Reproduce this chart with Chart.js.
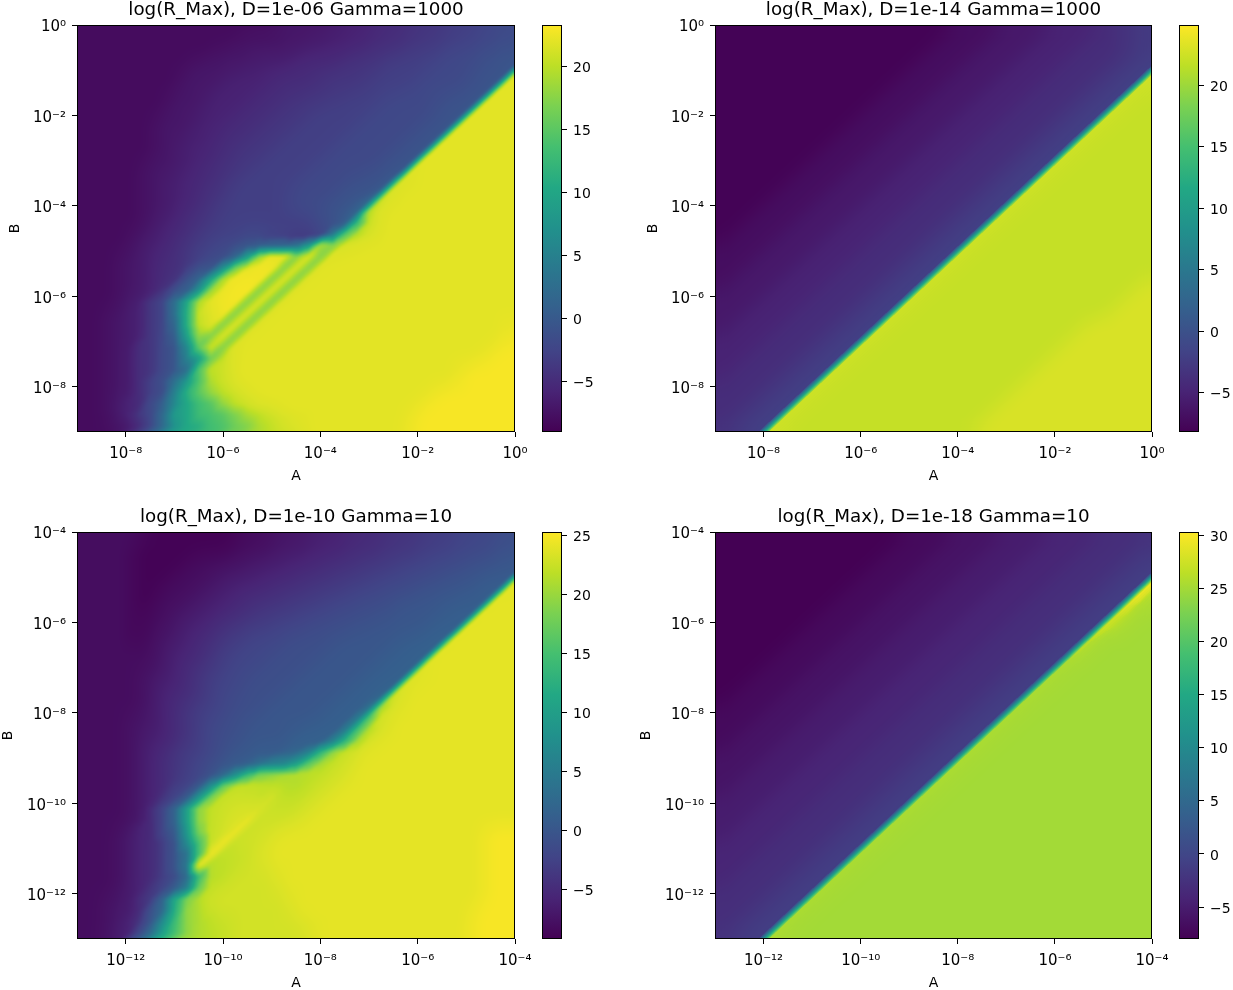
<!DOCTYPE html>
<html>
<head>
<meta charset="utf-8">
<script src="https://cdn.jsdelivr.net/npm/chart.js@4"></script>
<style>
  html, body { margin: 0; background: #fff; width: 1233px; height: 990px; overflow: hidden; }
  canvas { position: absolute; }
</style>
</head>
<body>
<script>
const viridis = ['#440154', '#482475', '#414487', '#355f8d', '#2a788e', '#21918c', '#22a884', '#44bf70', '#7ad151', '#bddf26', '#fde725']

const titles = ['log(R_Max), D=1e-06 Gamma=1000', 'log(R_Max), D=1e-14 Gamma=1000', 'log(R_Max), D=1e-10 Gamma=10', 'log(R_Max), D=1e-18 Gamma=10']

const topTickExps = [-8, -6, -4, -2, 0]
const topTickLabels = ['10⁻⁸', '10⁻⁶', '10⁻⁴', '10⁻²', '10⁰']
const lowTickExps = [-12, -10, -8, -6, -4]
const lowTickLabels = ['10⁻¹²', '10⁻¹⁰', '10⁻⁸', '10⁻⁶', '10⁻⁴']

const cbRanges = [[-9, 23.3], [-8.2, 24.9], [-9.2, 25.3], [-8, 30.3]]
const cbTicks = [[-5, 0, 5, 10, 15, 20], [-5, 0, 5, 10, 15, 20], [-5, 0, 5, 10, 15, 20, 25], [-5, 0, 5, 10, 15, 20, 25, 30]]

// log10(R_Max), rows top to bottom, 37 columns, 4 per decade
const grid1 = [
-8,-8,-8,-8, -8,-8,-8,-8, -8,-8,-8,-8, -8,-8,-8,-8, -8,-7,-7,-7, -7,-7,-6,-6, -6,-5,-5,-5, -4,-4,-4,-3, -3,-3,-2,-2, -1,
-8,-8,-8,-8, -8,-8,-8,-8, -8,-8,-8,-8, -8,-8,-7,-7, -7,-7,-7,-7, -6,-6,-6,-6, -5,-5,-5,-4, -4,-4,-3,-3, -3,-2,-2,-2, -1,
-8,-8,-8,-8, -8,-8,-8,-8, -8,-8,-8,-8, -7,-7,-7,-7, -7,-7,-6,-6, -6,-6,-5,-5, -5,-4,-4,-4, -3,-3,-3,-2, -2,-2,-1,-1, 0,
-8,-8,-8,-8, -8,-8,-8,-8, -8,-8,-7,-7, -7,-7,-7,-6, -6,-6,-6,-5, -5,-5,-5,-4, -4,-4,-3,-3, -3,-3,-2,-2, -2,-1,-1,-1, 0,
-8,-8,-8,-8, -8,-8,-8,-8, -8,-7,-7,-7, -7,-6,-6,-6, -6,-5,-5,-5, -5,-4,-4,-4, -4,-3,-3,-3, -3,-2,-2,-2, -2,-1,-1,0, 22,
-8,-8,-8,-8, -8,-8,-8,-8, -8,-7,-7,-7, -6,-6,-6,-6, -5,-5,-5,-5, -4,-4,-4,-4, -3,-3,-3,-3, -2,-2,-2,-2, -1,-1,0,22, 22,
-8,-8,-8,-8, -8,-8,-8,-8, -7,-7,-7,-6, -6,-6,-6,-5, -5,-5,-4,-4, -4,-4,-3,-3, -3,-3,-2,-2, -2,-2,-1,-1, -1,0,22,22, 22,
-8,-8,-8,-8, -8,-8,-8,-8, -7,-7,-7,-6, -6,-6,-5,-5, -5,-4,-4,-4, -3,-3,-3,-3, -3,-2,-2,-2, -2,-2,-1,-1, 0,22,22,22, 22,
-8,-8,-8,-8, -8,-8,-8,-7, -7,-7,-6,-6, -6,-5,-5,-5, -4,-4,-4,-3, -3,-3,-3,-3, -2,-2,-2,-2, -2,-1,-1,0, 22,22,22,22, 22,
-8,-8,-8,-8, -8,-8,-8,-7, -7,-7,-6,-6, -5,-5,-5,-4, -4,-4,-3,-3, -3,-3,-3,-2, -2,-2,-2,-2, -1,-1,0,22, 22,22,22,22, 22,
-8,-8,-8,-8, -8,-8,-8,-7, -7,-6,-6,-6, -5,-5,-4,-4, -4,-3,-3,-3, -3,-3,-2,-2, -2,-2,-2,-1, -1,0,22,22, 22,22,22,22, 22,
-8,-8,-8,-8, -8,-8,-8,-7, -7,-6,-6,-5, -5,-4,-4,-4, -3,-3,-3,-3, -3,-2,-2,-2, -2,-2,-1,-1, 0,22,22,22, 22,22,22,22, 22,
-8,-8,-8,-8, -8,-8,-7,-7, -7,-6,-6,-5, -5,-4,-4,-3, -3,-3,-3,-3, -2,-2,-2,-2, -2,-1,-1,0, 22,22,22,22, 22,22,22,22, 22,
-8,-8,-8,-8, -8,-8,-7,-7, -6,-6,-5,-5, -4,-4,-3,-3, -3,-3,-3,-2, -2,-2,-2,-1, -1,-1,1,21, 22,22,22,22, 22,22,22,22, 22,
-8,-8,-8,-8, -8,-8,-7,-7, -6,-6,-5,-5, -4,-3,-3,-3, -3,-3,-2,-2, -2,-2,-1,-1, -1,1,21,22, 22,22,22,22, 22,22,22,22, 22,
-8,-8,-8,-8, -8,-8,-7,-7, -6,-6,-5,-4, -4,-3,-3,-3, -3,-3,-2,-2, -2,-1,-1,0, 2,20,22,22, 22,22,22,22, 22,22,22,22, 22,
-8,-8,-8,-8, -8,-8,-7,-7, -6,-5,-5,-4, -3,-3,-3,-3, -3,-3,-2,-2, -1,-1,0,2, 19,22,22,22, 22,22,22,22, 22,22,22,22, 22,
-8,-8,-8,-8, -8,-8,-7,-6, -6,-5,-4,-4, -3,-3,-3,-3, -3,-3,-3,-3, -2,-1,1,12, 20,22,22,22, 22,22,22,22, 22,22,22,22, 22,
-8,-8,-8,-8, -8,-7,-7,-6, -5,-5,-4,-3, -3,-3,-2,-2, -3,-3,-4,-4, -2,4,14,19, 21,22,22,22, 22,22,22,22, 22,22,22,22, 22,
-8,-8,-8,-8, -8,-7,-6,-6, -5,-4,-3,-3, -2,-1,0,1, 2,2,3,8, 19,17,21,22, 22,22,22,22, 22,22,22,22, 22,22,22,22, 22,
-8,-8,-8,-8, -7,-7,-6,-5, -5,-4,-3,-2, -1,2,9,18, 22,22,17,22, 17,22,22,22, 22,22,22,22, 22,22,22,22, 22,22,22,22, 22,
-8,-8,-8,-8, -7,-7,-6,-5, -5,-3,-1,0, 7,16,21,23, 23,17,22,17, 22,22,22,22, 22,22,22,22, 22,22,22,22, 22,22,22,22, 22,
-8,-8,-8,-8, -7,-7,-6,-5, -4,-1,2,10, 19,23,23,23, 17,22,17,22, 22,22,22,22, 22,22,22,22, 22,22,22,22, 22,22,22,22, 22,
-8,-8,-8,-8, -7,-7,-6,-4, -1,1,8,18, 22,23,23,17, 22,17,22,22, 22,22,22,22, 22,22,22,22, 22,22,22,22, 22,22,22,22, 22,
-8,-8,-8,-8, -7,-6,-4,-2, 3,10,19,22, 23,23,17,22, 17,22,22,22, 22,22,22,22, 22,22,22,22, 22,22,22,22, 22,22,22,22, 22,
-8,-8,-8,-7, -7,-6,-4,-2, 3,11,20,22, 23,17,22,17, 22,22,22,22, 22,22,22,22, 22,22,22,22, 22,22,22,22, 22,22,22,22, 22,
-8,-8,-8,-7, -7,-6,-4,-2, 2,11,20,22, 17,22,17,22, 22,22,22,22, 22,22,22,22, 22,22,22,22, 22,22,22,22, 22,22,22,22, 23,
-8,-8,-8,-7, -7,-6,-4,-2, 1,9,18,17, 22,17,22,22, 22,22,22,22, 22,22,22,22, 22,22,22,22, 22,22,22,22, 22,22,22,22, 23,
-8,-8,-8,-7, -7,-5,-4,-2, 0,6,15,21, 17,22,22,22, 22,22,22,22, 22,22,22,22, 22,22,22,22, 22,22,22,22, 22,22,22,23, 23,
-8,-8,-8,-7, -7,-5,-4,-2, 0,5,9,16, 20,22,22,22, 22,22,22,22, 22,22,22,22, 22,22,22,22, 22,22,22,22, 22,22,23,23, 23,
-8,-8,-8,-7, -7,-5,-4,-2, 0,3,14,20, 21,22,22,22, 22,22,22,22, 22,22,22,22, 22,22,22,22, 22,22,22,22, 23,23,23,23, 23,
-8,-8,-8,-7, -7,-5,-3,-1, 3,8,14,19, 21,22,22,22, 22,22,22,22, 22,22,22,22, 22,22,22,22, 22,22,22,22, 23,23,23,23, 23,
-8,-8,-8,-7, -7,-5,-3,-1, 5,11,15,18, 20,21,22,22, 22,22,22,22, 22,22,22,22, 22,22,22,22, 22,22,23,23, 23,23,23,23, 23,
-8,-8,-8,-7, -6,-5,-2,1, 6,10,13,15, 18,20,21,22, 22,22,22,22, 22,22,22,22, 22,22,22,22, 22,23,23,23, 23,23,23,23, 23,
-8,-8,-8,-7, -6,-4,-2,2, 8,10,13,14, 15,17,19,20, 21,22,22,22, 22,22,22,22, 22,22,22,22, 23,23,23,23, 23,23,23,23, 23,
-8,-8,-8,-8, -7,-5,-2,2, 7,10,11,13, 14,16,17,19, 20,21,21,22, 22,22,22,22, 22,22,22,22, 23,23,23,23, 23,23,23,23, 23
]

const grid2 = [
-8,-8,-8,-8, -8,-8,-8,-8, -8,-8,-8,-8, -8,-8,-8,-8, -8,-8,-8,-8, -7,-7,-7,-7, -6,-6,-6,-6, -5,-5,-5,-5, -4,-4,-3,-3, -2,
-8,-8,-8,-8, -8,-8,-8,-8, -8,-8,-8,-8, -8,-8,-8,-8, -8,-8,-8,-7, -7,-7,-7,-6, -6,-6,-6,-5, -5,-5,-5,-4, -4,-4,-3,-3, -2,
-8,-8,-8,-8, -8,-8,-8,-8, -8,-8,-8,-8, -8,-8,-8,-8, -8,-8,-7,-7, -7,-7,-6,-6, -6,-6,-5,-5, -5,-5,-4,-4, -4,-4,-3,-3, -2,
-8,-8,-8,-8, -8,-8,-8,-8, -8,-8,-8,-8, -8,-8,-8,-8, -8,-7,-7,-7, -7,-6,-6,-6, -6,-5,-5,-5, -5,-4,-4,-4, -4,-3,-3,-2, -2,
-8,-8,-8,-8, -8,-8,-8,-8, -8,-8,-8,-8, -8,-8,-8,-8, -7,-7,-7,-7, -6,-6,-6,-6, -5,-5,-5,-5, -4,-4,-4,-4, -3,-3,-2,-2, 23,
-8,-8,-8,-8, -8,-8,-8,-8, -8,-8,-8,-8, -8,-8,-8,-7, -7,-7,-7,-6, -6,-6,-6,-5, -5,-5,-5,-4, -4,-4,-4,-3, -3,-2,-2,23, 22,
-8,-8,-8,-8, -8,-8,-8,-8, -8,-8,-8,-8, -8,-8,-7,-7, -7,-7,-6,-6, -6,-6,-5,-5, -5,-5,-4,-4, -4,-4,-3,-3, -2,-2,23,22, 22,
-8,-8,-8,-8, -8,-8,-8,-8, -8,-8,-8,-8, -8,-7,-7,-7, -7,-6,-6,-6, -6,-5,-5,-5, -5,-4,-4,-4, -4,-3,-3,-2, -2,23,22,22, 22,
-8,-8,-8,-8, -8,-8,-8,-8, -8,-8,-8,-8, -7,-7,-7,-7, -6,-6,-6,-6, -5,-5,-5,-5, -4,-4,-4,-4, -3,-3,-2,-2, 23,22,22,22, 22,
-8,-8,-8,-8, -8,-8,-8,-8, -8,-8,-8,-7, -7,-7,-7,-6, -6,-6,-6,-5, -5,-5,-5,-4, -4,-4,-4,-3, -3,-2,-2,23, 22,22,22,22, 22,
-8,-8,-8,-8, -8,-8,-8,-8, -8,-8,-7,-7, -7,-7,-6,-6, -6,-6,-5,-5, -5,-5,-4,-4, -4,-4,-3,-3, -2,-2,23,22, 22,22,22,22, 22,
-8,-8,-8,-8, -8,-8,-8,-8, -8,-7,-7,-7, -7,-6,-6,-6, -6,-5,-5,-5, -5,-4,-4,-4, -4,-3,-3,-2, -2,23,22,22, 22,22,22,22, 22,
-8,-8,-8,-8, -8,-8,-8,-8, -7,-7,-7,-7, -6,-6,-6,-6, -5,-5,-5,-5, -4,-4,-4,-4, -3,-3,-2,-2, 23,22,22,22, 22,22,22,22, 22,
-8,-8,-8,-8, -8,-8,-8,-7, -7,-7,-7,-6, -6,-6,-6,-5, -5,-5,-5,-4, -4,-4,-4,-3, -3,-2,-2,23, 22,22,22,22, 22,22,22,22, 22,
-8,-8,-8,-8, -8,-8,-7,-7, -7,-7,-6,-6, -6,-6,-5,-5, -5,-5,-4,-4, -4,-4,-3,-3, -2,-2,23,22, 22,22,22,22, 22,22,22,22, 22,
-8,-8,-8,-8, -8,-7,-7,-7, -7,-6,-6,-6, -6,-5,-5,-5, -5,-4,-4,-4, -4,-3,-3,-2, -2,23,22,22, 22,22,22,22, 22,22,22,22, 22,
-8,-8,-8,-8, -7,-7,-7,-7, -6,-6,-6,-6, -5,-5,-5,-5, -4,-4,-4,-4, -3,-3,-2,-2, 23,22,22,22, 22,22,22,22, 22,22,22,22, 22,
-8,-8,-8,-7, -7,-7,-7,-6, -6,-6,-6,-5, -5,-5,-5,-4, -4,-4,-4,-3, -3,-2,-2,23, 22,22,22,22, 22,22,22,22, 22,22,22,22, 22,
-8,-8,-7,-7, -7,-7,-6,-6, -6,-6,-5,-5, -5,-5,-4,-4, -4,-4,-3,-3, -2,-2,23,22, 22,22,22,22, 22,22,22,22, 22,22,22,22, 22,
-8,-7,-7,-7, -7,-6,-6,-6, -6,-5,-5,-5, -5,-4,-4,-4, -4,-3,-3,-2, -2,23,22,22, 22,22,22,22, 22,22,22,22, 22,22,22,22, 22,
-7,-7,-7,-7, -6,-6,-6,-6, -5,-5,-5,-5, -4,-4,-4,-4, -3,-3,-2,-2, 23,22,22,22, 22,22,22,22, 22,22,22,22, 22,22,22,22, 22,
-7,-7,-7,-6, -6,-6,-6,-5, -5,-5,-5,-4, -4,-4,-4,-3, -3,-2,-2,23, 22,22,22,22, 22,22,22,22, 22,22,22,22, 22,22,22,22, 22,
-7,-7,-6,-6, -6,-6,-5,-5, -5,-5,-4,-4, -4,-4,-3,-3, -2,-2,23,22, 22,22,22,22, 22,22,22,22, 22,22,22,22, 22,22,22,22, 23,
-7,-6,-6,-6, -6,-5,-5,-5, -5,-4,-4,-4, -4,-3,-3,-2, -2,23,22,22, 22,22,22,22, 22,22,22,22, 22,22,22,22, 22,22,22,23, 23,
-6,-6,-6,-6, -5,-5,-5,-5, -4,-4,-4,-4, -3,-3,-2,-2, 23,22,22,22, 22,22,22,22, 22,22,22,22, 22,22,22,22, 22,22,23,23, 23,
-6,-6,-6,-5, -5,-5,-5,-4, -4,-4,-4,-3, -3,-2,-2,23, 22,22,22,22, 22,22,22,22, 22,22,22,22, 22,22,22,22, 22,23,23,23, 23,
-6,-6,-5,-5, -5,-5,-4,-4, -4,-4,-3,-3, -2,-2,23,22, 22,22,22,22, 22,22,22,22, 22,22,22,22, 22,22,22,23, 23,23,23,23, 23,
-6,-5,-5,-5, -5,-4,-4,-4, -4,-3,-3,-2, -2,23,22,22, 22,22,22,22, 22,22,22,22, 22,22,22,22, 22,22,23,23, 23,23,23,23, 23,
-5,-5,-5,-5, -4,-4,-4,-4, -3,-3,-2,-2, 23,22,22,22, 22,22,22,22, 22,22,22,22, 22,22,22,22, 22,23,23,23, 23,23,23,23, 23,
-5,-5,-5,-4, -4,-4,-4,-3, -3,-2,-2,23, 22,22,22,22, 22,22,22,22, 22,22,22,22, 22,22,22,22, 23,23,23,23, 23,23,23,23, 23,
-5,-5,-4,-4, -4,-4,-3,-3, -2,-2,23,22, 22,22,22,22, 22,22,22,22, 22,22,22,22, 22,22,22,23, 23,23,23,23, 23,23,23,23, 23,
-5,-4,-4,-4, -4,-3,-3,-2, -2,23,22,22, 22,22,22,22, 22,22,22,22, 22,22,22,22, 22,22,23,23, 23,23,23,23, 23,23,23,23, 23,
-4,-4,-4,-4, -3,-3,-2,-2, 23,22,22,22, 22,22,22,22, 22,22,22,22, 22,22,22,22, 22,23,23,23, 23,23,23,23, 23,23,23,23, 23,
-4,-4,-4,-3, -3,-2,-2,23, 22,22,22,22, 22,22,22,22, 22,22,22,22, 22,22,22,22, 23,23,23,23, 23,23,23,23, 23,23,23,23, 23,
-4,-4,-3,-3, -2,-2,23,22, 22,22,22,22, 22,22,22,22, 22,22,22,22, 22,22,22,23, 23,23,23,23, 23,23,23,23, 23,23,23,23, 23,
-4,-3,-3,-2, -2,23,22,22, 22,22,22,22, 22,22,22,22, 22,22,22,22, 22,22,23,23, 23,23,23,23, 23,23,23,23, 23,23,23,23, 23
]

const grid3 = [
-8,-8,-8,-8, -8,-8,-9,-9, -9,-9,-9,-9, -9,-9,-8,-8, -8,-7,-7,-7, -6,-6,-6,-5, -5,-5,-4,-4, -4,-3,-3,-3, -2,-2,-2,-1, -1,
-8,-8,-8,-8, -8,-9,-9,-9, -9,-9,-9,-9, -9,-8,-8,-8, -7,-7,-7,-6, -6,-6,-5,-5, -5,-4,-4,-4, -3,-3,-3,-2, -2,-2,-1,-1, 0,
-8,-8,-8,-8, -8,-9,-9,-9, -9,-9,-8,-8, -8,-8,-7,-7, -7,-6,-6,-6, -5,-5,-5,-4, -4,-4,-3,-3, -3,-2,-2,-2, -1,-1,-1,0, 0,
-8,-8,-8,-8, -8,-9,-9,-9, -9,-8,-8,-8, -7,-7,-7,-6, -6,-6,-5,-5, -5,-4,-4,-4, -3,-3,-3,-2, -2,-2,-1,-1, -1,0,0,0, 1,
-8,-8,-8,-8, -8,-9,-9,-9, -8,-8,-8,-7, -7,-6,-6,-6, -5,-5,-5,-4, -4,-4,-3,-3, -3,-2,-2,-2, -1,-1,-1,0, 0,0,1,1, 24,
-8,-8,-8,-8, -8,-9,-9,-8, -8,-8,-7,-7, -6,-6,-5,-5, -5,-4,-4,-4, -3,-3,-3,-2, -2,-2,-1,-1, -1,0,0,0, 0,1,1,24, 24,
-8,-8,-8,-8, -8,-9,-9,-8, -8,-7,-7,-6, -6,-5,-5,-4, -4,-4,-3,-3, -3,-2,-2,-2, -1,-1,-1,0, 0,0,0,1, 1,1,24,24, 24,
-8,-8,-8,-8, -8,-9,-8,-8, -7,-7,-6,-6, -5,-5,-4,-4, -3,-3,-3,-2, -2,-2,-1,-1, -1,-1,0,0, 0,0,1,1, 1,24,24,24, 24,
-8,-8,-8,-8, -8,-9,-8,-8, -7,-6,-6,-5, -4,-4,-3,-3, -3,-2,-2,-2, -1,-1,-1,-1, 0,0,0,0, 0,1,1,1, 24,24,24,24, 24,
-8,-8,-8,-8, -8,-9,-8,-7, -7,-6,-5,-5, -4,-3,-3,-2, -2,-2,-1,-1, -1,-1,0,0, 0,0,0,1, 1,1,2,24, 24,24,24,24, 24,
-8,-8,-8,-8, -8,-8,-8,-7, -6,-6,-5,-4, -3,-3,-2,-2, -2,-1,-1,-1, -1,0,0,0, 0,0,1,1, 1,2,24,24, 24,24,24,24, 24,
-8,-8,-8,-8, -8,-8,-8,-7, -6,-5,-5,-4, -3,-2,-2,-2, -1,-1,-1,-1, 0,0,0,0, 0,1,1,1, 2,24,24,24, 24,24,24,24, 24,
-8,-8,-8,-8, -8,-8,-7,-7, -6,-5,-4,-3, -3,-2,-2,-1, -1,-1,-1,0, 0,0,0,0, 1,1,1,2, 23,24,24,24, 24,24,24,24, 24,
-8,-8,-8,-8, -8,-8,-7,-6, -6,-5,-4,-3, -2,-2,-1,-1, -1,-1,0,0, 0,0,0,1, 1,1,2,23, 24,24,24,24, 24,24,24,24, 24,
-8,-8,-8,-8, -8,-8,-7,-6, -5,-5,-4,-3, -2,-2,-1,-1, -1,0,0,0, 0,0,1,1, 1,3,22,24, 24,24,24,24, 24,24,24,24, 24,
-8,-8,-8,-8, -8,-8,-7,-6, -5,-4,-3,-3, -2,-1,-1,-1, 0,0,0,0, 0,1,1,1, 4,20,23,24, 24,24,24,24, 24,24,24,24, 24,
-8,-8,-8,-8, -8,-7,-7,-6, -5,-4,-3,-2, -2,-1,-1,0, 0,0,0,0, 1,1,1,5, 16,23,24,24, 24,24,24,24, 24,24,24,24, 24,
-8,-8,-8,-8, -8,-7,-7,-6, -5,-4,-3,-2, -1,-1,0,0, 0,0,1,1, 1,1,5,14, 21,23,24,24, 24,24,24,24, 24,24,24,24, 24,
-8,-8,-8,-8, -8,-7,-6,-6, -5,-4,-3,-2, -1,-1,0,0, 0,0,1,1, 2,6,13,20, 23,24,24,24, 24,24,24,24, 24,24,24,24, 24,
-8,-8,-8,-8, -8,-7,-6,-5, -4,-3,-3,-2, -1,0,0,1, 1,2,3,6, 13,19,22,23, 24,24,24,24, 24,24,24,24, 24,24,24,24, 24,
-8,-8,-8,-8, -8,-7,-6,-5, -4,-3,-2,-1, 0,1,2,4, 6,7,10,16, 20,22,23,24, 24,24,24,24, 24,24,24,24, 24,24,24,24, 24,
-8,-8,-8,-8, -8,-7,-6,-5, -4,-3,-2,0, 3,8,14,18, 19,20,21,22, 22,23,23,24, 24,24,24,24, 24,24,24,24, 24,24,24,24, 24,
-8,-8,-8,-8, -8,-7,-6,-5, -3,-2,1,8, 17,21,22,22, 22,22,21,22, 23,23,24,24, 24,24,24,24, 24,24,24,24, 24,24,24,24, 24,
-8,-8,-8,-8, -8,-7,-6,-4, -2,1,9,18, 22,23,23,22, 24,22,22,23, 23,24,24,24, 24,24,24,24, 24,24,24,24, 24,24,24,24, 24,
-8,-8,-8,-8, -8,-7,-5,-2, 2,10,19,22, 23,23,23,24, 22,22,23,23, 24,24,24,24, 24,24,24,24, 24,24,24,24, 24,24,24,24, 24,
-8,-8,-8,-8, -8,-7,-5,-2, 2,10,19,22, 23,23,25,22, 23,23,23,24, 24,24,24,24, 24,24,24,24, 24,24,24,24, 24,24,24,24, 24,
-8,-8,-8,-8, -7,-6,-5,-2, 1,9,18,22, 23,25,22,23, 23,24,24,24, 24,24,24,24, 24,24,24,24, 24,24,24,24, 24,24,25,25, 25,
-8,-8,-8,-8, -7,-6,-5,-3, 0,7,15,22, 25,22,23,23, 24,24,24,24, 24,24,24,24, 24,24,24,24, 24,24,24,24, 24,24,25,25, 25,
-8,-8,-8,-8, -7,-6,-5,-3, 0,4,15,25, 22,22,23,23, 24,24,24,24, 24,24,24,24, 24,24,24,24, 24,24,24,24, 24,24,25,25, 25,
-8,-8,-8,-8, -7,-6,-5,-3, 0,5,24,21, 22,22,23,23, 24,24,24,24, 24,24,24,24, 24,24,24,24, 24,24,24,24, 24,24,25,25, 25,
-8,-8,-8,-8, -7,-6,-5,-3, -1,3,14,21, 22,23,23,23, 23,24,24,24, 24,24,24,24, 24,24,24,24, 24,24,24,24, 24,24,25,25, 25,
-8,-8,-8,-8, -7,-6,-4,-2, 1,6,17,22, 23,23,23,23, 23,24,24,24, 24,24,24,24, 24,24,24,24, 24,24,24,24, 24,24,25,25, 25,
-8,-8,-8,-7, -7,-5,-3,2, 11,18,21,23, 23,23,23,23, 23,23,24,24, 24,24,24,24, 24,24,24,24, 24,24,24,24, 24,24,25,25, 25,
-8,-8,-8,-7, -7,-5,-1,3, 12,19,21,23, 23,23,23,23, 23,23,24,24, 24,24,24,24, 24,24,24,24, 24,24,24,24, 24,25,25,25, 25,
-8,-8,-8,-7, -6,-4,0,7, 14,19,21,22, 22,23,23,23, 23,23,23,24, 24,24,24,24, 24,24,24,24, 24,24,24,24, 24,25,25,25, 25,
-8,-8,-8,-7, -6,-2,3,10, 15,19,21,22, 22,23,23,23, 23,23,23,23, 24,24,24,24, 24,24,24,24, 24,24,24,24, 24,25,25,25, 25
]

const grid4 = [
-8,-8,-8,-8, -8,-8,-8,-8, -8,-8,-8,-8, -8,-8,-8,-8, -7,-7,-7,-7, -6,-6,-6,-6, -5,-5,-5,-5, -4,-4,-4,-4, -3,-3,-3,-3, -2,
-8,-8,-8,-8, -8,-8,-8,-8, -8,-8,-8,-8, -8,-8,-8,-7, -7,-7,-7,-6, -6,-6,-6,-5, -5,-5,-5,-4, -4,-4,-4,-3, -3,-3,-3,-2, -2,
-8,-8,-8,-8, -8,-8,-8,-8, -8,-8,-8,-8, -8,-8,-7,-7, -7,-7,-6,-6, -6,-6,-5,-5, -5,-5,-4,-4, -4,-4,-3,-3, -3,-3,-2,-2, -1,
-8,-8,-8,-8, -8,-8,-8,-8, -8,-8,-8,-8, -8,-7,-7,-7, -7,-6,-6,-6, -6,-5,-5,-5, -5,-4,-4,-4, -4,-3,-3,-3, -3,-2,-2,-1, -1,
-8,-8,-8,-8, -8,-8,-8,-8, -8,-8,-8,-8, -7,-7,-7,-7, -6,-6,-6,-6, -5,-5,-5,-5, -4,-4,-4,-4, -3,-3,-3,-3, -2,-2,-1,-1, 30,
-8,-8,-8,-8, -8,-8,-8,-8, -8,-8,-8,-7, -7,-7,-7,-6, -6,-6,-6,-5, -5,-5,-5,-4, -4,-4,-4,-3, -3,-3,-3,-2, -2,-1,-1,30, 26,
-8,-8,-8,-8, -8,-8,-8,-8, -8,-8,-7,-7, -7,-7,-6,-6, -6,-6,-5,-5, -5,-5,-4,-4, -4,-4,-3,-3, -3,-3,-2,-2, -1,-1,29,26, 25,
-8,-8,-8,-8, -8,-8,-8,-8, -8,-7,-7,-7, -7,-6,-6,-6, -6,-5,-5,-5, -5,-4,-4,-4, -4,-3,-3,-3, -3,-2,-2,-1, -1,28,26,25, 25,
-8,-8,-8,-8, -8,-8,-8,-8, -7,-7,-7,-7, -6,-6,-6,-6, -5,-5,-5,-5, -4,-4,-4,-4, -3,-3,-3,-3, -2,-2,-1,-1, 28,26,25,25, 25,
-8,-8,-8,-8, -8,-8,-8,-7, -7,-7,-7,-6, -6,-6,-6,-5, -5,-5,-5,-4, -4,-4,-4,-3, -3,-3,-3,-2, -2,-1,-1,27, 25,25,25,25, 25,
-8,-8,-8,-8, -8,-8,-7,-7, -7,-7,-6,-6, -6,-6,-5,-5, -5,-5,-4,-4, -4,-4,-3,-3, -3,-3,-2,-2, -1,-1,27,25, 25,25,25,25, 25,
-8,-8,-8,-8, -8,-7,-7,-7, -7,-6,-6,-6, -6,-5,-5,-5, -5,-4,-4,-4, -4,-3,-3,-3, -3,-2,-2,-1, -1,26,25,25, 25,25,25,25, 25,
-8,-8,-8,-8, -7,-7,-7,-7, -6,-6,-6,-6, -5,-5,-5,-5, -4,-4,-4,-4, -3,-3,-3,-3, -2,-2,-1,-1, 26,25,25,25, 25,25,25,25, 25,
-8,-8,-8,-7, -7,-7,-7,-6, -6,-6,-6,-5, -5,-5,-5,-4, -4,-4,-4,-3, -3,-3,-3,-2, -2,-1,-1,26, 25,25,25,25, 25,25,25,25, 25,
-8,-8,-7,-7, -7,-7,-6,-6, -6,-6,-5,-5, -5,-5,-4,-4, -4,-4,-3,-3, -3,-3,-2,-2, -1,-1,26,25, 25,25,25,25, 25,25,25,25, 25,
-8,-7,-7,-7, -7,-6,-6,-6, -6,-5,-5,-5, -5,-4,-4,-4, -4,-3,-3,-3, -3,-2,-2,-1, -1,26,25,25, 25,25,25,25, 25,25,25,25, 25,
-7,-7,-7,-7, -6,-6,-6,-6, -5,-5,-5,-5, -4,-4,-4,-4, -3,-3,-3,-3, -2,-2,-1,-1, 26,25,25,25, 25,25,25,25, 25,25,25,25, 25,
-7,-7,-7,-6, -6,-6,-6,-5, -5,-5,-5,-4, -4,-4,-4,-3, -3,-3,-3,-2, -2,-1,-1,26, 25,25,25,25, 25,25,25,25, 25,25,25,25, 25,
-7,-7,-6,-6, -6,-6,-5,-5, -5,-5,-4,-4, -4,-4,-3,-3, -3,-3,-2,-2, -1,-1,26,25, 25,25,25,25, 25,25,25,25, 25,25,25,25, 25,
-7,-6,-6,-6, -6,-5,-5,-5, -5,-4,-4,-4, -4,-3,-3,-3, -3,-2,-2,-1, -1,26,25,25, 25,25,25,25, 25,25,25,25, 25,25,25,25, 25,
-6,-6,-6,-6, -5,-5,-5,-5, -4,-4,-4,-4, -3,-3,-3,-3, -2,-2,-1,-1, 26,25,25,25, 25,25,25,25, 25,25,25,25, 25,25,25,25, 25,
-6,-6,-6,-5, -5,-5,-5,-4, -4,-4,-4,-3, -3,-3,-3,-2, -2,-1,-1,26, 25,25,25,25, 25,25,25,25, 25,25,25,25, 25,25,25,25, 25,
-6,-6,-5,-5, -5,-5,-4,-4, -4,-4,-3,-3, -3,-3,-2,-2, -1,-1,26,25, 25,25,25,25, 25,25,25,25, 25,25,25,25, 25,25,25,25, 25,
-6,-5,-5,-5, -5,-4,-4,-4, -4,-3,-3,-3, -3,-2,-2,-1, -1,26,25,25, 25,25,25,25, 25,25,25,25, 25,25,25,25, 25,25,25,25, 25,
-5,-5,-5,-5, -4,-4,-4,-4, -3,-3,-3,-3, -2,-2,-1,-1, 26,25,25,25, 25,25,25,25, 25,25,25,25, 25,25,25,25, 25,25,25,25, 25,
-5,-5,-5,-4, -4,-4,-4,-3, -3,-3,-3,-2, -2,-1,-1,26, 25,25,25,25, 25,25,25,25, 25,25,25,25, 25,25,25,25, 25,25,25,25, 25,
-5,-5,-4,-4, -4,-4,-3,-3, -3,-3,-2,-2, -1,-1,26,25, 25,25,25,25, 25,25,25,25, 25,25,25,25, 25,25,25,25, 25,25,25,25, 25,
-5,-4,-4,-4, -4,-3,-3,-3, -3,-2,-2,-1, -1,26,25,25, 25,25,25,25, 25,25,25,25, 25,25,25,25, 25,25,25,25, 25,25,25,25, 25,
-4,-4,-4,-4, -3,-3,-3,-3, -2,-2,-1,-1, 26,25,25,25, 25,25,25,25, 25,25,25,25, 25,25,25,25, 25,25,25,25, 25,25,25,25, 25,
-4,-4,-4,-3, -3,-3,-3,-2, -2,-1,-1,26, 25,25,25,25, 25,25,25,25, 25,25,25,25, 25,25,25,25, 25,25,25,25, 25,25,25,25, 25,
-4,-4,-3,-3, -3,-3,-2,-2, -1,-1,26,25, 25,25,25,25, 25,25,25,25, 25,25,25,25, 25,25,25,25, 25,25,25,25, 25,25,25,25, 25,
-4,-3,-3,-3, -3,-2,-2,-1, -1,26,25,25, 25,25,25,25, 25,25,25,25, 25,25,25,25, 25,25,25,25, 25,25,25,25, 25,25,25,25, 25,
-3,-3,-3,-3, -2,-2,-1,-1, 26,25,25,25, 25,25,25,25, 25,25,25,25, 25,25,25,25, 25,25,25,25, 25,25,25,25, 25,25,25,25, 25,
-3,-3,-3,-2, -2,-1,-1,26, 25,25,25,25, 25,25,25,25, 25,25,25,25, 25,25,25,25, 25,25,25,25, 25,25,25,25, 25,25,25,25, 25,
-3,-3,-2,-2, -1,-1,26,25, 25,25,25,25, 25,25,25,25, 25,25,25,25, 25,25,25,25, 25,25,25,25, 25,25,25,25, 25,25,25,25, 25,
-3,-2,-2,-1, -1,26,25,25, 25,25,25,25, 25,25,25,25, 25,25,25,25, 25,25,25,25, 25,25,25,25, 25,25,25,25, 25,25,25,25, 25
]

const COLS = 37
const ROWS = 36
const FONT = 'DejaVu Sans'
const rgbStops = viridis.map(h => [1, 3, 5].map(k => parseInt(h.substr(k, 2), 16)))

function colorAt(t) {
  const p = Math.min(0.9999, Math.max(0, t)) * (rgbStops.length - 1)
  const k = Math.floor(p)
  const f = p - k
  return rgbStops[k].map((c, n) => c + (rgbStops[k + 1][n] - c) * f)
}

// averages only the neighbours close in value, so flat areas soften and edges stay
function softenFlat(vals, w, h, rad, step, limit) {
  const out = new Float64Array(w * h)
  for (let y = 0; y < h; y++) {
    for (let x = 0; x < w; x++) {
      const raw = vals[y * w + x]
      let sum = 0
      let n = 0
      for (let dy = -rad; dy <= rad; dy += step) {
        const yy = y + dy
        if (yy < 0 || yy >= h) continue
        for (let dx = -rad; dx <= rad; dx += step) {
          const xx = x + dx
          if (xx < 0 || xx >= w) continue
          const s = vals[yy * w + xx]
          if (Math.abs(s - raw) < limit) {
            sum += s
            n++
          }
        }
      }
      out[y * w + x] = n ? sum / n : raw
    }
  }
  return out
}

// paints the dataset cells to the chart area, positions come from the scales
const heatPlugin = {
  id: 'heat',
  beforeDatasetsDraw(chart) {
    const { ctx, chartArea: area, scales } = chart
    const cells = chart.data.datasets[0].data
    const { range: [lo, hi], blur } = chart.options.plugins.heat
    const xPx = []
    for (let i = 0; i < COLS; i++) xPx.push(scales.x.getPixelForValue(cells[i].x))
    const yPx = []
    for (let r = 0; r < ROWS; r++) yPx.push(scales.y.getPixelForValue(cells[r * COLS].y))
    const slope = (xPx[1] - xPx[0]) / (yPx[1] - yPx[0])
    const w = Math.round(area.right - area.left)
    const h = Math.round(area.bottom - area.top)
    const vals = new Float64Array(w * h)
    for (let py = 0; py < h; py++) {
      const y = area.top + py + 0.5
      let r = 0
      while (r < ROWS - 2 && y > yPx[r + 1]) r++
      const v = Math.min(1, Math.max(0, (yPx[r + 1] - y) / (yPx[r + 1] - yPx[r]))) // 0 at lower row
      // above the first row and below the last one, carry the row on along the diagonal
      let shift = 0
      if (y < yPx[0]) shift = (y - yPx[0]) * slope
      if (y > yPx[ROWS - 1]) shift = (y - yPx[ROWS - 1]) * slope
      for (let px = 0; px < w; px++) {
        const x = area.left + px + 0.5 + shift
        let i = 0
        while (i < COLS - 2 && x > xPx[i + 1]) i++
        const u = Math.min(1, Math.max(0, (x - xPx[i]) / (xPx[i + 1] - xPx[i])))
        const ll = cells[(r + 1) * COLS + i].v
        const lr = cells[(r + 1) * COLS + i + 1].v
        const ul = cells[r * COLS + i].v
        const ur = cells[r * COLS + i + 1].v
        // split each cell along the rising diagonal so the diagonal edges stay sharp
        vals[py * w + px] = u > v ? ll + u * (lr - ll) + v * (ur - lr) : ll + v * (ul - ll) + u * (ur - ul)
      }
    }
    let smooth = softenFlat(vals, w, h, 12, 3, 1.6)
    if (blur) smooth = softenFlat(smooth, w, h, blur, 1, 99)
    const img = ctx.createImageData(w, h)
    for (let k = 0; k < w * h; k++) {
      const c = colorAt((smooth[k] - lo) / (hi - lo))
      img.data[k * 4] = c[0]
      img.data[k * 4 + 1] = c[1]
      img.data[k * 4 + 2] = c[2]
      img.data[k * 4 + 3] = 255
    }
    ctx.putImageData(img, Math.round(area.left), Math.round(area.top))
  },
}

const framePlugin = {
  id: 'frame',
  afterDraw(chart) {
    const { ctx, chartArea: a } = chart
    ctx.save()
    ctx.strokeStyle = '#000'
    ctx.lineWidth = 1
    ctx.strokeRect(Math.round(a.left) + 0.5, Math.round(a.top) + 0.5, Math.round(a.right - a.left) - 1, Math.round(a.bottom - a.top) - 1)
    ctx.restore()
  },
}

function addCanvas(left, top, w, h) {
  const c = document.createElement('canvas')
  c.width = w
  c.height = h
  c.style.left = left + 'px'
  c.style.top = top + 'px'
  c.style.width = w + 'px'
  c.style.height = h + 'px'
  document.body.appendChild(c)
  return c.getContext('2d')
}

function logAxis(minExp, maxExp, tickExps, tickLabels, text, tickPad, labelOffset, titlePad, fit) {
  return {
    type: 'logarithmic',
    min: Math.pow(10, minExp),
    max: Math.pow(10, maxExp),
    afterBuildTicks(s) { s.ticks = tickExps.map(e => ({ value: Math.pow(10, e), major: true })) },
    afterFit: fit,
    grid: { drawOnChartArea: false, color: '#000', tickLength: 5, tickWidth: 1 },
    border: { display: false },
    ticks: {
      color: '#000',
      padding: tickPad,
      labelOffset,
      autoSkip: false,
      maxRotation: 0,
      font: { family: FONT, size: 15 },
      callback: (v, i) => tickLabels[i],
    },
    title: { display: true, text, color: '#000', font: { family: FONT, size: 14 }, padding: titlePad },
  }
}

function drawPanel(n, left, top, plotW, grid, minExp, maxExp, tickExps, tickLabels, yPad, blur) {
  const cells = []
  for (let r = 0; r < ROWS; r++) {
    for (let i = 0; i < COLS; i++) {
      cells.push({
        x: Math.pow(10, minExp + i / 4),
        y: Math.pow(10, maxExp - (r + 0.5) / 4),
        v: grid[r * COLS + i],
      })
    }
  }
  new Chart(addCanvas(left, top, 590, 495), {
    type: 'scatter',
    data: { datasets: [{ data: cells, pointRadius: 0, showLine: false }] },
    plugins: [heatPlugin, framePlugin],
    options: {
      responsive: false,
      animation: false,
      devicePixelRatio: 1,
      layout: { padding: { right: 590 - 77 - plotW } },
      scales: {
        x: logAxis(minExp, maxExp, tickExps, tickLabels, 'A', 8, 0, { top: 0, bottom: 10 }, s => { s.height = 63 }),
        y: logAxis(minExp, maxExp, tickExps, tickLabels, 'B', 6, 2.5, { top: yPad, bottom: 0 }, s => { s.width = 77 }),
      },
      plugins: {
        legend: { display: false },
        tooltip: { enabled: false },
        heat: { range: cbRanges[n], blur },
        title: {
          display: true,
          fullSize: false,
          text: titles[n],
          color: '#000',
          font: { family: FONT, size: 18.3, weight: 'normal' },
          padding: { top: -1, bottom: 4.04 },
        },
      },
    },
  })

  // colorbar
  const [lo, hi] = cbRanges[n]
  new Chart(addCanvas(left + 77 + plotW + 15, top, 90, 495), {
    type: 'bar',
    data: {
      labels: ['c'],
      datasets: [{
        data: [[lo, hi]],
        borderWidth: 0,
        barPercentage: 1,
        categoryPercentage: 1,
        backgroundColor(ctx) {
          const a = ctx.chart.chartArea
          if (!a) return viridis[0]
          const g = ctx.chart.ctx.createLinearGradient(0, a.bottom, 0, a.top)
          viridis.forEach((c, k) => g.addColorStop(k / (viridis.length - 1), c))
          return g
        },
      }],
    },
    plugins: [framePlugin],
    options: {
      responsive: false,
      animation: false,
      devicePixelRatio: 1,
      layout: { padding: { left: 12, top: 25, bottom: 63 } },
      scales: {
        x: { display: false },
        y: {
          position: 'right',
          min: lo,
          max: hi,
          afterBuildTicks(s) { s.ticks = cbTicks[n].map(value => ({ value })) },
          afterFit(s) { s.width = 58 },
          grid: { drawOnChartArea: false, color: '#000', tickLength: 5 },
          border: { display: false },
          ticks: {
            color: '#000',
            padding: 6,
            labelOffset: 2,
            font: { family: FONT, size: 14 },
            callback: v => String(v).replace('-', '\u2212'),
          },
        },
      },
      plugins: { legend: { display: false }, tooltip: { enabled: false } },
    },
  })
}

drawPanel(0, 0, 0, 438, grid1, -9, 0, topTickExps, topTickLabels, 7, 2)
drawPanel(1, 638, 0, 437, grid2, -9, 0, topTickExps, topTickLabels, 7, 0)
drawPanel(2, 0, 507, 438, grid3, -13, -4, lowTickExps, lowTickLabels, 0, 2)
drawPanel(3, 638, 507, 437, grid4, -13, -4, lowTickExps, lowTickLabels, 0, 0)
</script>
</body>
</html>
